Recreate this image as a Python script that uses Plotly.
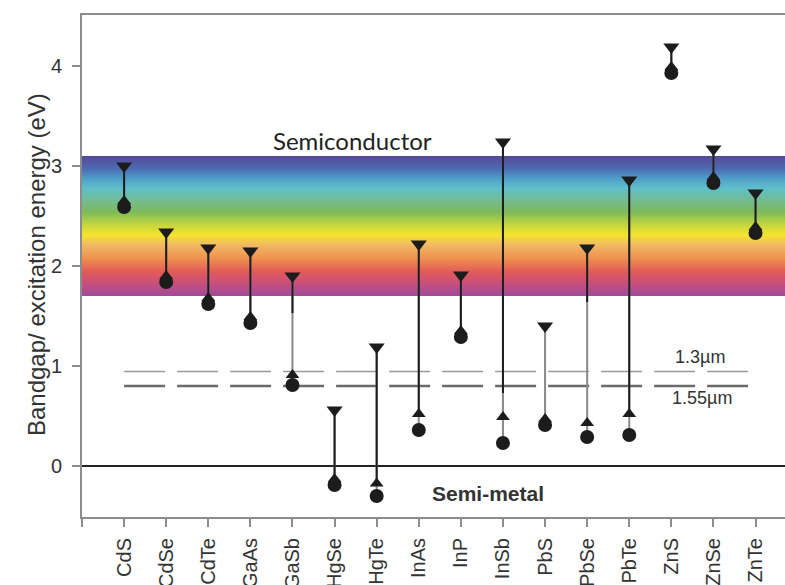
import plotly.graph_objects as go

# Materials along the x axis
materials = ["CdS", "CdSe", "CdTe", "GaAs", "GaSb", "HgSe", "HgTe", "InAs",
             "InP", "InSb", "PbS", "PbSe", "PbTe", "ZnS", "ZnSe", "ZnTe"]

# Energies in eV
excitation_eV = [3.00, 2.34, 2.18, 2.15, 1.90, 0.56, 1.19, 2.22,
                 1.91, 3.24, 1.40, 2.18, 2.86, 4.19, 3.17, 2.73]
upper_gap_eV = [2.65, 1.90, 1.68, 1.49, 0.91, -0.13, -0.175, 0.52,
                1.35, 0.49, 0.47, 0.43, 0.52, 3.99, 2.89, 2.39]
bulk_gap_eV = [2.59, 1.84, 1.62, 1.43, 0.81, -0.19, -0.30, 0.36,
               1.29, 0.23, 0.41, 0.29, 0.31, 3.93, 2.83, 2.33]
# lower end of the dark part of each range bar
dark_end_eV = [2.65, 1.90, 1.68, 1.49, 1.53, -0.13, -0.175, 0.52,
               1.35, 0.73, 1.40, 1.64, 0.52, 3.99, 2.89, 2.39]

# Telecom wavelengths (eV)
telecom_lines = [("1.3\u00b5m", 0.945, "#9a9a9a", 1.5), ("1.55\u00b5m", 0.80, "#6a6a6a", 2.5)]

# Visible-light band
visible_lo, visible_hi = 1.70, 3.10
visible_scale = [
    [0.000, "#a04b98"], [0.079, "#c24e82"], [0.171, "#e25a58"],
    [0.271, "#ee9250"], [0.364, "#f2b862"], [0.436, "#f5e42e"],
    [0.507, "#c6d63e"], [0.600, "#7dba5a"], [0.671, "#76bb8a"],
    [0.771, "#5ebfcc"], [0.843, "#4e9cc8"], [0.907, "#4c6cb2"],
    [1.000, "#57479a"],
]

pos = list(range(1, len(materials) + 1))
x_max = 16.7
ink = "#1c1c1c"

fig = go.Figure()

# rainbow band of the visible spectrum
fig.add_trace(go.Scatter(
    x=[-1, 20, 20, -1, -1],
    y=[visible_lo, visible_lo, visible_hi, visible_hi, visible_lo],
    mode="lines", line=dict(width=0), fill="toself",
    fillgradient=dict(type="vertical", start=visible_lo, stop=visible_hi,
                      colorscale=visible_scale),
    hoverinfo="skip", showlegend=False,
))

# telecom reference lines
for label, e, col, w in telecom_lines:
    fig.add_trace(go.Scatter(
        x=[1, 15.85], y=[e, e], mode="lines",
        line=dict(color=col, width=w, dash="41px,12px"),
        hoverinfo="skip", showlegend=False,
    ))

# full range bars (grey) from bulk gap to excitation energy
gx, gy = [], []
for p, lo, hi in zip(pos, bulk_gap_eV, excitation_eV):
    gx += [p, p, None]
    gy += [lo, hi, None]
fig.add_trace(go.Scatter(x=gx, y=gy, mode="lines",
                         line=dict(color="#8a8a8a", width=2),
                         hoverinfo="skip", showlegend=False))

# dark part of the range bars
dx, dy = [], []
for p, lo, hi in zip(pos, dark_end_eV, excitation_eV):
    dx += [p, p, None]
    dy += [lo, hi, None]
fig.add_trace(go.Scatter(x=dx, y=dy, mode="lines",
                         line=dict(color=ink, width=2),
                         hoverinfo="skip", showlegend=False))

fig.add_trace(go.Scatter(x=pos, y=upper_gap_eV, mode="markers",
                         marker=dict(symbol="triangle-up", size=12, color=ink),
                         showlegend=False))
fig.add_trace(go.Scatter(x=pos, y=bulk_gap_eV, mode="markers",
                         marker=dict(symbol="circle", size=14, color=ink),
                         showlegend=False))
fig.add_trace(go.Scatter(x=pos, y=excitation_eV, mode="markers",
                         marker=dict(symbol="triangle-down", size=14, color=ink),
                         showlegend=False))

axis_grey = "#8c8c8c"
tick_font = dict(family="Liberation Sans, Arial, sans-serif", size=20, color="#333333")

fig.update_layout(
    width=785, height=585,
    margin=dict(l=82, r=0, t=15, b=68, autoexpand=False),
    paper_bgcolor="white", plot_bgcolor="white",
    xaxis=dict(
        range=[0, x_max], tickmode="array", tickvals=[0] + pos, ticktext=[""] + materials,
        tickangle=-90, tickfont=tick_font, ticklabelstandoff=3,
        ticks="outside", ticklen=8, tickwidth=1.5, tickcolor=axis_grey,
        showline=True, linecolor=axis_grey, linewidth=2, mirror=True,
        showgrid=False, zeroline=False, automargin=False,
    ),
    yaxis=dict(
        range=[-0.51, 4.51], tickmode="array", tickvals=[0, 1, 2, 3, 4],
        tickfont=tick_font, ticklabelstandoff=6,
        ticks="outside", ticklen=8, tickwidth=1.5, tickcolor=axis_grey,
        showline=True, linecolor=axis_grey, linewidth=2,
        showgrid=False, zeroline=True, zerolinecolor="#222222", zerolinewidth=1.5,
        automargin=False,
    ),
    annotations=[
        dict(text="Bandgap/ excitation energy (eV)", textangle=-90,
             xref="paper", yref="paper", x=-0.086, y=0.502,
             showarrow=False, font=dict(family="Liberation Sans, Arial, sans-serif",
                                        size=24, color="#333333")),
        dict(text="Semiconductor", xref="x", yref="y", x=(353 - 82) / 42.1, y=3.26,
             showarrow=False, font=dict(family="Lato, sans-serif", size=24, color="#222222")),
        dict(text="<b>Semi-metal</b>", xref="x", yref="y", x=(488 - 82) / 42.1, y=-0.27,
             showarrow=False, font=dict(family="Liberation Sans, Arial, sans-serif",
                                        size=21, color="#333333")),
        dict(text=telecom_lines[0][0], xref="x", yref="y", x=(700 - 82) / 42.1, y=1.09,
             showarrow=False, font=dict(family="Liberation Sans, Arial, sans-serif",
                                        size=18, color="#333333")),
        dict(text=telecom_lines[1][0], xref="x", yref="y", x=(702 - 82) / 42.1, y=0.68,
             showarrow=False, font=dict(family="Liberation Sans, Arial, sans-serif",
                                        size=18, color="#333333")),
    ],
)

fig.write_html("out.html")
